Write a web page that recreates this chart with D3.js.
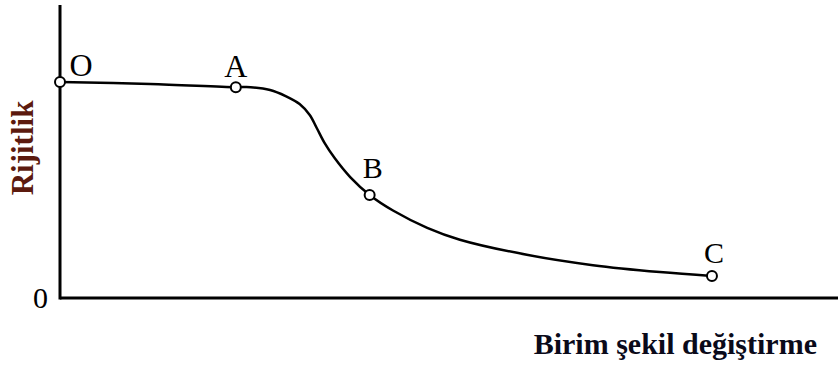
<!DOCTYPE html>
<html><head><meta charset="utf-8">
<script src="https://cdn.jsdelivr.net/npm/d3@7"></script>
<style>
html,body{margin:0;padding:0;background:#fff;}
svg{display:block;}
</style></head>
<body>
<svg id="chart" width="838" height="365"></svg>
<script>
// Data (strain, stiffness) in arbitrary units
const strain    = [0, 1.16, 2.26, 2.45, 2.70, 2.90, 3.08, 3.21, 3.30, 3.40, 3.53, 3.73, 3.98, 4.28, 4.72, 5.14, 6.00, 6.85, 7.71, 8.38];
const stiffness = [1.0, 0.991, 0.976, 0.976, 0.963, 0.935, 0.898, 0.847, 0.787, 0.718, 0.648, 0.560, 0.477, 0.405, 0.325, 0.270, 0.200, 0.152, 0.120, 0.102];
const pointNames = ["O", "A", "B", "C"];
const pointStrain = [0, 2.26, 3.98, 8.38];
const pointStiff  = [1.0, 0.976, 0.477, 0.102];
const yTickValues = [0];
const yTickLabels = ["0"];
const xTitle = "Birim şekil değiştirme";
const yTitle = "Rijitlik";

const svg = d3.select("#chart");
const x = d3.scaleLinear().domain([0, 10]).range([60, 838]);
const y = d3.scaleLinear().domain([0, 1]).range([298, 82]);
const yTop = 1.356;

// axes
const xAxis = d3.axisBottom(x).tickValues([]).tickSizeOuter(0);
const gx = svg.append("g").attr("transform", `translate(0,${y(0)})`).call(xAxis);
gx.select(".domain").attr("stroke", "#000").attr("stroke-width", 3).attr("d", `M${x(0)},0H${x(10)}`);

const yAxis = d3.axisLeft(y).tickValues(yTickValues).tickSize(0).tickPadding(12)
  .tickFormat((d, i) => yTickLabels[i]);
const gy = svg.append("g").attr("transform", `translate(${x(0)},0)`).call(yAxis);
gy.select(".domain").attr("stroke", "#000").attr("stroke-width", 3).attr("d", `M0,${y(0)+1.5}V${y(yTop)}`);
gy.selectAll(".tick text").attr("font-family", "Liberation Serif, serif").attr("font-size", 30).attr("fill", "#000");

// curve
const data = strain.map((s, i) => [s, stiffness[i]]);
const line = d3.line().x(d => x(d[0])).y(d => y(d[1])).curve(d3.curveCatmullRom.alpha(0.5));
svg.append("path").datum(data).attr("d", line)
  .attr("fill", "none").attr("stroke", "#000").attr("stroke-width", 2.5);

// points
const pts = pointNames.map((n, i) => ({n, s: pointStrain[i], k: pointStiff[i]}));
svg.selectAll("circle.pt").data(pts).enter().append("circle")
  .attr("class", "pt")
  .attr("cx", d => x(d.s)).attr("cy", d => y(d.k)).attr("r", 5)
  .attr("fill", "#fff").attr("stroke", "#000").attr("stroke-width", 2);

const labelOffsets = {O: [21, -6], A: [0, -10], B: [3, -17], C: [2, -13]};
const labelSize = {O: 32, A: 32, B: 30, C: 30};
svg.selectAll("text.pl").data(pts).enter().append("text")
  .attr("class", "pl")
  .attr("x", d => x(d.s) + labelOffsets[d.n][0])
  .attr("y", d => y(d.k) + labelOffsets[d.n][1])
  .attr("text-anchor", "middle")
  .attr("font-family", "Liberation Serif, serif").attr("font-size", d => labelSize[d.n])
  .attr("fill", "#000").text(d => d.n);

// titles
svg.append("text").attr("x", 817).attr("y", 354).attr("text-anchor", "end")
  .attr("font-family", "Liberation Serif, serif").attr("font-weight", "bold").attr("font-size", 30)
  .attr("fill", "#0a0a1a").text(xTitle);

svg.append("text").attr("transform", "translate(33,148) rotate(-90)").attr("text-anchor", "middle")
  .attr("font-family", "Liberation Serif, serif").attr("font-weight", "bold").attr("font-size", 31)
  .attr("fill", "#5c1a0e").text(yTitle);
</script>
</body></html>
